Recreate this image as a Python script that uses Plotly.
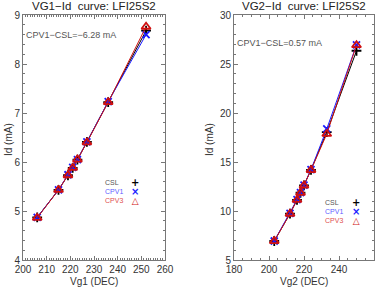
import plotly.graph_objects as go

# Panel 1: VG1-Id
vg1 = [206, 215, 219, 221, 223, 227, 236, 252]
id1_csl = [4.87, 5.43, 5.73, 5.88, 6.05, 6.41, 7.22, 8.68]
id1_cpv1 = [4.87, 5.43, 5.74, 5.89, 6.05, 6.41, 7.23, 8.60]
id1_cpv3 = [4.86, 5.43, 5.73, 5.88, 6.05, 6.40, 7.22, 8.76]

# Panel 2: VG2-Id
vg2 = [203, 212, 216, 218, 220, 224, 233, 250]
id2_csl = [6.94, 9.73, 11.14, 11.86, 12.62, 14.20, 18.05, 26.35]
id2_cpv1 = [6.94, 9.75, 11.15, 11.87, 12.65, 14.22, 18.37, 26.95]
id2_cpv3 = [6.93, 9.72, 11.13, 11.85, 12.60, 14.18, 17.86, 26.92]

series = ["CSL", "CPV1", "CPV3"]
colors = {"CSL": "#000000", "CPV1": "#1a1aff", "CPV3": "#d01010"}
text_colors = {"CSL": "#555555", "CPV1": "#6060ff", "CPV3": "#e05050"}
symbols = {"CSL": "cross-thin", "CPV1": "x-thin", "CPV3": "triangle-up-open"}
glyphs = {"CSL": "+", "CPV1": "×", "CPV3": "△"}

titles = ["VG1\u2212Id  curve: LFI25S2", "VG2\u2212Id  curve: LFI25S2"]
notes = ["CPV1\u2212CSL=\u22126.28 mA", "CPV1\u2212CSL=0.57 mA"]
xtitles = ["Vg1 (DEC)", "Vg2 (DEC)"]
ytitle = "Id (mA)"

fig = go.Figure()
font = "Liberation Sans, Arial, sans-serif"
W, H = 382, 289

panels = [
    (vg1, {"CSL": id1_csl, "CPV1": id1_cpv1, "CPV3": id1_cpv3}, "x", "y"),
    (vg2, {"CSL": id2_csl, "CPV1": id2_cpv1, "CPV3": id2_cpv3}, "x2", "y2"),
]
for xs, ys, xa, ya in panels:
    for s in series:
        fig.add_trace(go.Scatter(
            x=xs, y=ys[s], mode="lines+markers", xaxis=xa, yaxis=ya,
            line=dict(color=colors[s], width=1),
            marker=dict(symbol=symbols[s], size=7 if s != "CPV3" else 8,
                        color=colors[s],
                        line=dict(color=colors[s], width=1.8)),
            showlegend=False, name=s, hoverinfo="skip"))

axis_common = dict(showgrid=False, zeroline=False, showline=True, linecolor="#777777",
                   linewidth=1, mirror="ticks", ticks="inside", ticklen=4, automargin=False,
                   tickcolor="#777777", tickfont=dict(size=10, color="#333333", family=font))

dom1 = [23 / W, 165 / W]
dom2 = [234 / W, 374 / W]
ydom = [1 - 260 / H, 1 - 15 / H]

def mnr(d):
    return dict(dtick=d, ticks="inside", ticklen=2, tickcolor="#777777")

fig.update_layout(
    width=W, height=H, margin=dict(l=0, r=0, t=0, b=0),
    paper_bgcolor="white", plot_bgcolor="white",
    font=dict(family=font, color="#333333"),
    xaxis=dict(domain=dom1, range=[200, 260], dtick=10, anchor="y", minor=mnr(1), **axis_common),
    yaxis=dict(domain=ydom, range=[4, 9], dtick=1, anchor="x", minor=mnr(0.2), **axis_common),
    xaxis2=dict(domain=dom2, range=[180, 260], dtick=20, anchor="y2", minor=mnr(5), **axis_common),
    yaxis2=dict(domain=ydom, range=[5, 30], dtick=5, anchor="x2", minor=mnr(1), **axis_common),
)

for i, dom in enumerate([dom1, dom2]):
    cx = (dom[0] + dom[1]) / 2
    fig.add_annotation(text=titles[i], xref="paper", yref="paper",
                       x=cx, y=1 - 6 / H, yanchor="middle", xanchor="center",
                       showarrow=False, font=dict(size=11.5, color="#222222", family=font))
    fig.add_annotation(text=xtitles[i], xref="paper", yref="paper",
                       x=cx, y=1 - 281 / H, yanchor="middle", xanchor="center",
                       showarrow=False, font=dict(size=10, color="#333333", family=font))
    fig.add_annotation(text=ytitle, xref="paper", yref="paper", textangle=-90,
                       x=(8 if i == 0 else 209) / W, y=1 - 140 / H,
                       yanchor="middle", xanchor="center",
                       showarrow=False, font=dict(size=10, color="#333333", family=font))
    fig.add_annotation(text=notes[i], xref="paper", yref="paper",
                       x=(24 if i == 0 else 235) / W, y=1 - (35 if i == 0 else 43) / H,
                       xanchor="left", yanchor="middle", showarrow=False,
                       font=dict(size=9, color="#555555", family=font))

# Custom legends: a text column and a symbol column (text then symbol, IDL style)
leg = [(103, 135, 191), (323, 356, 211)]
label_text = "<br>".join(f"<span style='color:{text_colors[s]}'>{s}</span>" for s in series)
glyph_text = "<br>".join(
    f"<span style='color:{colors[s]};font-size:{10 if s != 'CPV3' else 9}px'><b>{glyphs[s]}</b></span>"
    for s in series)
for xt, xs_, yc in leg:
    fig.add_annotation(text=label_text, xref="paper", yref="paper", x=xt / W, y=1 - yc / H,
                       xanchor="left", yanchor="middle", align="left", showarrow=False,
                       font=dict(size=7, family=font))
    fig.add_annotation(text=glyph_text, xref="paper", yref="paper", x=xs_ / W, y=1 - yc / H,
                       xanchor="center", yanchor="middle", align="center", showarrow=False,
                       font=dict(size=7, family="DejaVu Sans"))

fig.write_html("out.html", config={"displayModeBar": False, "staticPlot": True},
               post_script="document.body.style.margin='0';document.body.style.overflow='hidden';")
